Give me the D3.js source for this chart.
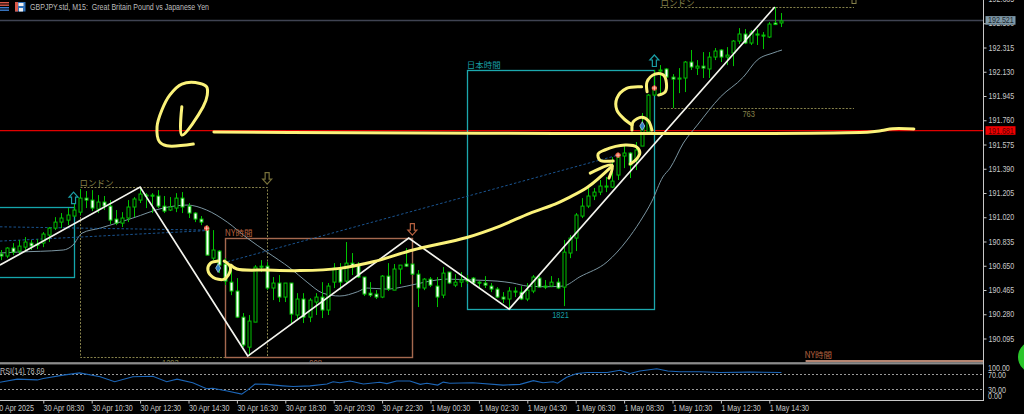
<!DOCTYPE html>
<html><head><meta charset="utf-8">
<style>html,body{margin:0;padding:0;background:#000;overflow:hidden}svg{display:block}</style>
<script src="https://cdn.jsdelivr.net/npm/d3@7"></script>
</head><body>
<svg id="c" width="1024" height="414"></svg>
<script>
const firstBar=-7;
const opens=[190.739,190.724,190.785,190.762,190.792,190.823,190.815,190.823,190.884,190.937,
190.983,190.998,191.029,191.059,191.166,191.151,191.082,191.136,191.105,191.006,
190.975,191.014,191.098,191.151,191.189,191.189,191.182,191.105,191.075,191.090,
191.166,191.105,191.052,191.006,190.937,190.708,190.762,190.663,190.525,190.457,
190.258,190.029,190.220,190.647,190.647,190.480,190.518,190.411,190.518,190.274,
190.396,190.258,190.373,190.411,190.312,190.525,190.632,190.533,190.670,190.655,
190.564,190.441,190.434,190.411,190.571,190.464,190.625,190.663,190.663,190.586,
190.480,190.548,190.495,190.426,190.602,190.502,190.525,190.548,190.556,190.525,
190.518,190.495,190.472,190.411,190.396,190.457,190.449,190.396,190.457,190.556,
190.495,190.495,190.525,190.487,190.747,190.861,191.029,191.105,191.182,191.212,
191.250,191.250,191.342,191.487,191.510,191.456,191.563,191.670,191.952,192.135,
192.151,192.089,192.074,192.082,192.204,192.158,192.173,192.151,192.242,192.296,
192.242,192.273,192.364,192.418,192.349,192.418,192.410,192.395,192.502,192.502];
const closes=[190.724,190.785,190.754,190.800,190.831,190.800,190.808,190.892,190.937,190.983,
191.014,191.037,191.075,191.166,191.151,191.090,191.136,191.105,190.998,190.975,
191.014,191.098,191.159,191.197,191.182,191.182,191.105,191.067,191.098,191.166,
191.098,191.052,191.006,190.983,190.731,190.770,190.655,190.533,190.457,190.258,
190.045,190.228,190.640,190.640,190.480,190.518,190.411,190.518,190.281,190.396,
190.258,190.388,190.411,190.312,190.495,190.632,190.525,190.670,190.640,190.564,
190.434,190.426,190.411,190.571,190.472,190.625,190.655,190.647,190.586,190.480,
190.548,190.502,190.411,190.594,190.518,190.525,190.541,190.533,190.518,190.518,
190.502,190.472,190.411,190.396,190.457,190.449,190.396,190.464,190.564,190.487,
190.487,190.525,190.480,190.754,190.861,191.037,191.105,191.182,191.212,191.258,
191.258,191.296,191.479,191.510,191.418,191.533,191.716,191.952,192.006,192.143,
192.089,192.074,192.082,192.204,192.166,192.173,192.158,192.242,192.288,192.242,
192.257,192.364,192.418,192.349,192.433,192.410,192.402,192.494,192.490,192.517];
const highs=[190.770,190.792,190.823,190.846,190.869,190.846,190.853,190.907,190.945,191.021,
191.052,191.090,191.128,191.235,191.220,191.227,191.189,191.182,191.151,191.075,
191.059,191.151,191.174,191.243,191.204,191.204,191.227,191.182,191.174,191.204,
191.212,191.128,191.059,191.029,190.960,190.922,190.770,190.708,190.632,190.556,
190.289,190.274,190.655,190.693,190.678,190.564,190.579,190.518,190.518,190.441,
190.441,190.403,190.441,190.525,190.518,190.670,190.670,190.831,190.747,190.678,
190.564,190.525,190.464,190.579,190.670,190.663,190.655,190.785,190.663,190.617,
190.556,190.564,190.564,190.640,190.602,190.586,190.602,190.579,190.564,190.533,
190.571,190.518,190.487,190.449,190.487,190.487,190.495,190.518,190.579,190.571,
190.541,190.571,190.556,190.846,190.884,191.052,191.166,191.243,191.243,191.304,
191.327,191.479,191.510,191.571,191.517,191.594,191.815,191.960,192.143,192.181,
192.158,192.112,192.158,192.212,192.296,192.219,192.280,192.280,192.311,192.303,
192.318,192.372,192.463,192.456,192.448,192.456,192.433,192.509,192.624,192.578];
const lows=[190.693,190.708,190.731,190.731,190.754,190.770,190.777,190.792,190.831,190.922,
190.937,190.960,191.021,191.037,191.090,191.067,191.052,191.075,190.968,190.960,
190.945,190.983,191.021,191.128,191.090,191.052,191.090,191.052,191.067,191.059,
191.052,191.014,190.983,190.960,190.731,190.693,190.594,190.502,190.426,190.251,
190.029,189.961,190.220,190.602,190.464,190.388,190.373,190.373,190.213,190.235,
190.213,190.220,190.274,190.251,190.274,190.480,190.464,190.518,190.579,190.556,
190.419,190.411,190.396,190.403,190.457,190.464,190.510,190.640,190.579,190.335,
190.464,190.487,190.335,190.403,190.510,190.487,190.487,190.510,190.502,190.487,
190.480,190.449,190.403,190.365,190.327,190.411,190.388,190.380,190.441,190.487,
190.472,190.487,190.472,190.342,190.708,190.762,191.014,191.090,191.151,191.189,
191.212,191.243,191.304,191.395,191.319,191.380,191.563,191.670,191.945,191.952,
192.067,191.853,191.967,191.975,192.143,192.105,192.082,192.082,192.219,192.204,
192.181,192.173,192.341,192.341,192.334,192.334,192.303,192.387,192.486,192.471];

const maBars=[-7.2,-4.3,3.3,4.9,6.4,9.4,14.8,19.8,23.8,27,30.4,33.7,37,40.8,43.6,46.2,49,51.9,53.5,56.8,60.1,63.4,66.7,71,75,77.6,80,83.3,85.9,88.7,93.2,96.5,98.6,100.6,102.4,103.6,105.8,108.1,111.9,115.7,118,120.6,122.1];
const maPrices=[190.747,190.754,190.770,190.808,190.899,190.937,191.014,191.090,191.113,191.075,190.983,190.861,190.754,190.632,190.525,190.441,190.419,190.451,190.480,190.472,190.495,190.528,190.548,190.541,190.533,190.518,190.495,190.490,190.495,190.566,190.680,190.846,190.985,191.143,191.327,191.395,191.586,191.723,191.937,192.089,192.219,192.273,192.296];

const rsiBars=[-7.2,-4.3,-1,0,3.3,6,9.4,11.8,14.8,18.1,20.4,22.1,24.7,27,28,30.4,32.8,33.8,35,37,39.6,41.3,44.1,46.9,47.9,49,50.7,52.9,55.6,56.8,58.4,60.6,62.3,63.4,65.2,66.1,67.2,71,76,78.8,81,82.6,84.3,85,86.5,88.2,89.9,93.2,95.3,97,98.6,101.4,103.2,105.2,108.5,111.9,116.8,122];
const rsiValues=[50.5,59,57,61,70,76,65.5,52,65.5,67,52,59,49.5,33,34.5,27,18.5,30,46,45,41,39,41,46,52,49.5,54,46,50.5,47,54,54,45,48,43,51,48,49.5,43,45,55,49.5,52,48,64,74.5,77,77,83,74.5,81,87,81,79,79,77,78,77];

const zigBars=[-7.16,16,33.8,60.4,77,120.9];
const zigPrices=[190.655,191.250,189.961,190.861,190.319,192.624];

const dashA=[[-7.16,190.947],[27,190.922]];
const dashB=[[-7.16,190.838],[27,190.918]];
const dashC=[[29,190.663],[95,191.494]];

const tealBox=[-9,5,191.095,190.561];
const japanBox=[70,101,192.143,190.319];
const nyBox=[30,61,190.863,189.957];
const londonBox=[6,37,191.248,189.957];
const london2Span=[102,134,192.624,191.857];

const priceTicks=[192.685,192.5,192.315,192.13,191.945,191.76,191.575,191.39,191.205,191.02,190.835,190.65,190.465,190.28,190.095];
const timeTickBars=[-8,0,8,16,24,32,40,48,56,64,72,80,88,96,104,112,120];
const timeLabels=["30 Apr 2025","30 Apr 08:30","30 Apr 10:30","30 Apr 12:30","30 Apr 14:30","30 Apr 16:30","30 Apr 18:30","30 Apr 20:30","30 Apr 22:30","1 May 00:30","1 May 02:30","1 May 04:30","1 May 06:30","1 May 08:30","1 May 10:30","1 May 12:30","1 May 14:30"];
const rsiTicks=[100,70,30,0];
const rsiTickLabels=["100.00","70.00","30.00","0.00"];
const bidPrice=192.521, levelPrice=191.681, rsiNow="78.69";

const sellMarks=[[27,190.937],[95,191.494],[101,192.006]];
const buyMarks=[[28.9,190.632],[99,191.716]];
const arrowsUp=[[5,191.166,"#1a9ea6"],[101,192.212,"#1a9ea6"]];
const arrowsDown=[[37,191.319,"#77703a"],[61,190.93,"#b5603f"]];

const penCheck=[[22.9,191.863],[22.9,191.647],[26.4,191.861],[27.1,191.952],[27,192.015],[25.9,192.041],[22.9,192.036],[20.9,191.952],[19.6,191.838],[18.8,191.71],[19.2,191.596],[20.4,191.565],[24.8,191.578]];
const penLevel=[[28.2,191.67],[136.6,191.67],[138.6,191.681],[140.4,191.695],[143.9,191.693]];
const penRingLow=[[28.9,190.686],[27.6,190.668],[27.2,190.617],[28.1,190.561],[29.8,190.546],[30.6,190.579],[30.9,190.642],[29.9,190.686]];
const penSwing=[[31,190.655],[32,190.625],[36.9,190.617],[42.4,190.613],[49,190.63],[54.5,190.68],[61.1,190.77],[70,190.866],[75.5,190.953],[80.4,191.05],[84.6,191.12],[86.7,191.166],[90,191.25],[94,191.41]];
const penHead=[[90.4,191.357],[94,191.418],[93.5,191.319]];
const penBlob=[[94.2,191.449],[92,191.456],[91.7,191.502],[92.8,191.533],[96.2,191.571],[98.1,191.555],[98.6,191.51],[97.9,191.456],[97,191.426]];
const penRingMid=[[97.3,191.685],[97.5,191.748],[98.9,191.782],[100,191.756],[100.6,191.685]];
const penArc=[[98.9,192.015],[96.4,192.003],[94.8,191.927],[94.8,191.838],[95.9,191.774],[97.3,191.723]];
const penRingTop=[[99.8,191.977],[99.8,192.054],[101.1,192.112],[102.5,192.105],[103,192.041],[102.8,191.977],[101.7,191.952]];
const penStrokes=[penCheck,penLevel,penRingLow,penSwing,penHead,penBlob,penRingMid,penArc,penRingTop];

const svg=d3.select("#c");
const FONT='"Liberation Sans",sans-serif';
const W=983.5, RSI_TOP=364, RSI_BOT=401, NARROW=0.84;
const x=d3.scaleLinear().domain([0,120]).range([43.3,769.3]);
const y=d3.scaleLinear().domain([190.095,192.315]).range([338.5,47.5]);
const ry=d3.scaleLinear().domain([0,100]).range([RSI_BOT,RSI_TOP]);
const snap=v=>Math.round(v)+0.5;
function squeeze(sel){
  sel.each(function(){
    const n=this.getComputedTextLength();
    d3.select(this).attr("textLength",n*NARROW).attr("lengthAdjust","spacingAndGlyphs");
  });
  return sel;
}

svg.append("rect").attr("width",1024).attr("height",414).attr("fill","#000");
svg.append("defs").append("clipPath").attr("id","plot").append("rect").attr("x",0).attr("y",0).attr("width",W).attr("height",363);
const plot=svg.append("g").attr("clip-path","url(#plot)");

plot.append("line").attr("x1",0).attr("x2",W).attr("y1",y(bidPrice)).attr("y2",y(bidPrice)).attr("stroke","#3f4352").attr("stroke-width",1.6);
plot.append("line").attr("x1",0).attr("x2",W).attr("y1",y(levelPrice)).attr("y2",y(levelPrice)).attr("stroke","#e00000").attr("stroke-width",1.2);

function box(b,color,dash,w){
  plot.append("rect").attr("x",snap(x(b[0]))).attr("y",snap(y(b[2])))
    .attr("width",Math.round(x(b[1]))-Math.round(x(b[0]))).attr("height",Math.round(y(b[3]))-Math.round(y(b[2])))
    .attr("fill","none").attr("stroke",color).attr("stroke-width",w).attr("stroke-dasharray",dash||null);
}
const KHAKI="#85804a";
box(tealBox,"#14a6ac",null,1.3);
box(londonBox,KHAKI,"2 1.5",1);
[london2Span[2],london2Span[3]].forEach(p=>plot.append("line").attr("x1",x(london2Span[0])).attr("x2",x(london2Span[1]))
  .attr("y1",snap(y(p))).attr("y2",snap(y(p))).attr("stroke",KHAKI).attr("stroke-dasharray","2 1.5"));
box(japanBox,"#1ca8ae",null,1.3);
box(nyBox,"#a5694f",null,1.4);

plot.append("path").datum(maBars.map((b,i)=>[b,maPrices[i]]))
  .attr("fill","none").attr("stroke","#7b95a1").attr("stroke-width",1)
  .attr("d",d3.line().x(d=>x(d[0])).y(d=>y(d[1])).curve(d3.curveMonotoneX));

[dashA,dashB,dashC].forEach(s=>plot.append("path").datum(s).attr("fill","none").attr("stroke","#1a5490").attr("stroke-width",1).attr("stroke-dasharray","2.5 2")
  .attr("d",d3.line().x(d=>x(d[0])).y(d=>y(d[1]))));

const candles=opens.map((o,i)=>({bar:firstBar+i,o,c:closes[i],h:highs[i],l:lows[i]}));
const GREEN="#00c400";
const cg=plot.append("g").selectAll("g").data(candles).join("g");
cg.append("line").attr("x1",d=>snap(x(d.bar))).attr("x2",d=>snap(x(d.bar))).attr("y1",d=>y(d.h)).attr("y2",d=>y(d.l)).attr("stroke",GREEN).attr("stroke-width",1);
cg.append("rect").attr("x",d=>snap(x(d.bar))-1.5).attr("width",3)
  .attr("y",d=>y(Math.max(d.o,d.c))).attr("height",d=>Math.max(1,Math.abs(y(d.o)-y(d.c))))
  .attr("fill",d=>d.c<d.o?"#fff":"#000").attr("stroke",GREEN).attr("stroke-width",1);

plot.append("path").datum(zigBars.map((b,i)=>[b,zigPrices[i]])).attr("fill","none").attr("stroke","#f4f4ee").attr("stroke-width",1.7)
  .attr("d",d3.line().x(d=>x(d[0])).y(d=>y(d[1])));

const label=(g,t,px,py,c,size,font,anchor)=>g.append("text").attr("x",px).attr("y",py).attr("fill",c).attr("font-size",size).attr("font-family",font||FONT).attr("text-anchor",anchor||"start").text(t);
const JP='"Noto Sans CJK JP",sans-serif';
label(plot,"ロンドン",x(6),y(191.248)-1.5,KHAKI,8.5,JP);
label(plot,"ロンドン",x(102),y(192.624)-1,KHAKI,8.5,JP);
label(plot,"NY時間",x(30),y(190.863)-1.5,"#b5603f",8.5,JP);
label(plot,"NY時間",x(125.8),358,"#b5603f",8.5,JP);
label(plot,"日本時間",x(70),y(192.143)-2,"#179da3",8.5,JP);
squeeze(label(plot,"1821",x(85.5),y(190.319)+9,"#179da3",9,FONT,"middle"));
squeeze(label(plot,"763",x(116.6),y(191.857)+9,KHAKI,9,FONT,"middle"));
squeeze(label(plot,"1293",x(21),366,KHAKI,9,FONT,"middle"));
squeeze(label(plot,"908",x(45),365.5,"#a5694f",9,FONT,"middle"));
plot.append("line").attr("x1",x(126)).attr("x2",W).attr("y1",361).attr("y2",361).attr("stroke","#f2b096").attr("stroke-width",1.6);

const arrowPath="M0,-6L4.5,-1L2,-1L2,5.5L-2,5.5L-2,-1L-4.5,-1Z";
arrowsUp.forEach(a=>plot.append("path").attr("d",arrowPath).attr("transform",`translate(${x(a[0])},${y(a[1])})`).attr("fill","none").attr("stroke",a[2]).attr("stroke-width",1.2));
arrowsDown.forEach(a=>plot.append("path").attr("d",arrowPath).attr("transform",`translate(${x(a[0])},${y(a[1])}) scale(1,-1)`).attr("fill","none").attr("stroke",a[2]).attr("stroke-width",1.2));
plot.append("rect").attr("x",x(134)-2).attr("y",-1).attr("width",4).attr("height",4.5).attr("fill","none").attr("stroke",KHAKI);

const cross="M-2.5,0H2.5M0,-2.5V2.5";
sellMarks.forEach(m=>{
  const g=plot.append("g").attr("transform",`translate(${x(m[0])},${y(m[1])})`);
  g.append("circle").attr("r",2.6).attr("fill","#e8492f");
  g.append("path").attr("d",cross).attr("stroke","#ffd9cf").attr("stroke-width",0.8);
});
buyMarks.forEach(m=>{
  const g=plot.append("g").attr("transform",`translate(${x(m[0])},${y(m[1])})`);
  g.append("path").attr("d",d3.symbol(d3.symbolDiamond,22)()).attr("fill","#2f7fc4").attr("stroke","#bcd7ee").attr("stroke-width",0.7);
});

penStrokes.forEach(s=>plot.append("path").datum(s).attr("fill","none").attr("stroke","#fbf27a").attr("stroke-width",3).attr("stroke-linecap","round").attr("stroke-linejoin","round")
  .attr("d",d3.line().x(d=>x(d[0])).y(d=>y(d[1])).curve(d3.curveCatmullRom.alpha(0.5))));

svg.append("line").attr("x1",0).attr("x2",W).attr("y1",362.5).attr("y2",362.5).attr("stroke","#777").attr("stroke-width",1);
svg.append("line").attr("x1",0).attr("x2",W).attr("y1",363.8).attr("y2",363.8).attr("stroke","#c8c8c8").attr("stroke-width",1);
[70,30].forEach(v=>svg.append("line").attr("x1",0).attr("x2",W).attr("y1",snap(ry(v))-1).attr("y2",snap(ry(v))-1).attr("stroke","#9a9a9a").attr("stroke-dasharray","2 2"));
svg.append("path").datum(rsiBars.map((b,i)=>[b,rsiValues[i]])).attr("fill","none").attr("stroke","#1c66b8").attr("stroke-width",1.1)
  .attr("d",d3.line().x(d=>x(d[0])).y(d=>ry(d[1])));
squeeze(label(svg,"RSI(14) "+rsiNow,0,374,"#b8b8b8",8.5));

const tAxis=svg.append("g").attr("transform","translate(0,400.5)")
  .call(d3.axisBottom(x).tickValues(timeTickBars).tickSize(3).tickFormat((d,i)=>timeLabels[i]));
tAxis.select(".domain").remove();
tAxis.selectAll("line").attr("stroke","#c8c8c8");
squeeze(tAxis.selectAll("text").attr("text-anchor","start").attr("x",0).attr("dy",null).attr("y",10.5).attr("fill","#c8c8c8").attr("font-size",8.5).attr("font-family",FONT));
svg.append("line").attr("x1",0).attr("x2",W).attr("y1",400.5).attr("y2",400.5).attr("stroke","#c8c8c8");

svg.append("line").attr("x1",W).attr("x2",W).attr("y1",0).attr("y2",RSI_BOT).attr("stroke","#c8c8c8");
const pAxis=svg.append("g").attr("transform",`translate(${W},0)`)
  .call(d3.axisRight(y).tickValues(priceTicks).tickSize(3).tickFormat(d3.format(".3f")));
pAxis.select(".domain").remove();
pAxis.selectAll("line").attr("stroke","#c8c8c8");
squeeze(pAxis.selectAll("text").attr("x",5).attr("fill","#c8c8c8").attr("font-size",8.5).attr("font-family",FONT));

rsiTicks.forEach((v,i)=>{
  const py=[370.5,377.5,392.5,398.5][i];
  squeeze(label(svg,rsiTickLabels[i],988,py,"#c8c8c8",8.5));
});

function tag(p,bg,fg){
  const py=y(p);
  svg.append("rect").attr("x",985.5).attr("y",py-4.4).attr("width",30).attr("height",8.6).attr("fill",bg);
  squeeze(label(svg,p.toFixed(3),988,py+3,fg,8.5));
}
tag(bidPrice,"#7d97a6","#20282e");
tag(levelPrice,"#f00000","#5a0000");

const icons=svg.append("g");
[1,3.5,6,8.5].forEach(v=>icons.append("rect").attr("x",-2).attr("y",1+v).attr("width",11).attr("height",1.4).attr("fill",v%2<1?"#3c7fd0":"#d95a4a"));
icons.append("rect").attr("x",15).attr("y",2).attr("width",10.5).attr("height",9.5).attr("fill","#2d6fb8");
icons.append("rect").attr("x",15).attr("y",2).attr("width",3).attr("height",9.5).attr("fill","#d95a4a");
icons.append("rect").attr("x",18.5).attr("y",3).attr("width",5).attr("height",3).attr("fill","#eee");
icons.append("rect").attr("x",19).attr("y",8).attr("width",4).attr("height",3.5).attr("fill","#eee");
label(svg,"GBPJPY.std, M15:  Great Britain Pound vs Japanese Yen",30,9.5,"#bdbdbd",8.5).attr("textLength",179).attr("lengthAdjust","spacingAndGlyphs").attr("xml:space","preserve");

svg.append("circle").attr("cx",1034).attr("cy",357).attr("r",16).attr("fill","#2bc62b");
</script>
</body></html>
